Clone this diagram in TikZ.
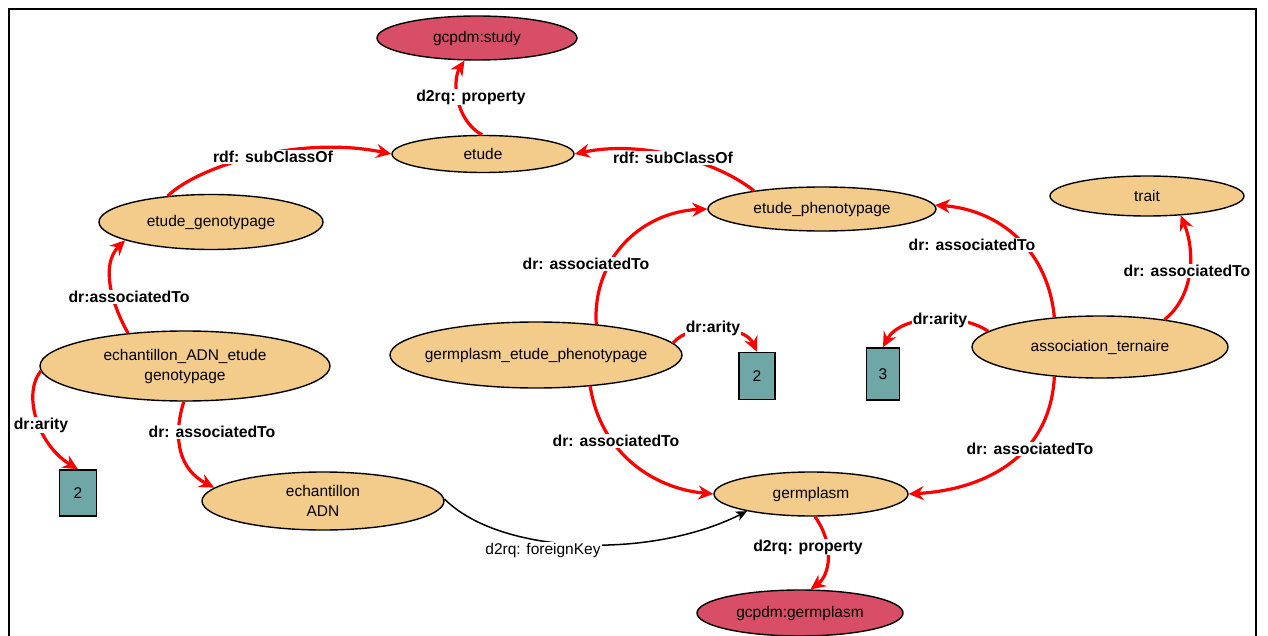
\documentclass[tikz,border=0pt]{standalone}
\usepackage{fontspec}
\setmainfont{Liberation Sans}
\usetikzlibrary{shapes.geometric,arrows.meta}

\definecolor{classfill}{RGB}{243,204,139}
\definecolor{gcpdmfill}{RGB}{217,78,103}
\definecolor{arityfill}{RGB}{111,166,166}
\definecolor{edgered}{RGB}{255,0,0}

\tikzset{
  cls/.style={ellipse, draw=black, line width=1.4pt, fill=classfill,
              inner xsep=-30pt, inner ysep=-8pt,
              font=\fontsize{15.5}{20}\selectfont, align=center},
  gcpdm/.style={cls, fill=gcpdmfill},
  arity/.style={rectangle, draw=black, line width=1.4pt, fill=arityfill, inner sep=0pt,
                font=\fontsize{15.5}{18}\selectfont},
  rel/.style={draw=edgered, line width=3.2pt, -{Stealth[length=15pt,width=14pt,inset=5pt]}},
  fk/.style={draw=black, line width=1.5pt, -{Stealth[length=11pt,width=10pt,inset=3pt]}},
  lbl/.style={fill=white, inner sep=1pt, font=\bfseries\fontsize{15.8}{18}\selectfont},
  fklbl/.style={fill=white, inner sep=1pt, font=\fontsize{15.5}{18}\selectfont},
}

\begin{document}
\begin{tikzpicture}[x=1pt, y=-1pt]
\useasboundingbox (0,0) rectangle (1268,636);

% frame
\draw[line width=2pt] (9,640) -- (9,9) -- (1256,9) -- (1256,640);

% classes and arity boxes
\node[gcpdm, minimum width=200pt, minimum height=44pt] (study) at (477,38) {gcpdm:study};
\node[cls, minimum width=182pt, minimum height=37pt] (etude) at (483,154) {etude};
\node[cls, minimum width=224pt, minimum height=55pt] (genot) at (211,222) {etude\_genotypage};
\node[cls, minimum width=228pt, minimum height=44pt] (phenot) at (822,209) {etude\_phenotypage};
\node[cls, minimum width=194pt, minimum height=40pt] (trait) at (1147,196) {trait};
\node[cls, minimum width=290pt, minimum height=70pt] (ech) at (185,366) {echantillon\_ADN\_etude\\genotypage};
\node[cls, minimum width=292pt, minimum height=66pt] (gep) at (536,355) {germplasm\_etude\_phenotypage};
\node[cls, minimum width=256pt, minimum height=62pt] (assoc) at (1100,347) {association\_ternaire};
\node[arity, minimum width=36pt, minimum height=47pt] (ar2m) at (757,376) {2};
\node[arity, minimum width=33pt, minimum height=52pt] (ar3) at (883,374) {3};
\node[arity, minimum width=37pt, minimum height=46pt] (ar2l) at (78,493) {2};
\node[cls, minimum width=242pt, minimum height=58pt] (adn) at (323,501) {echantillon\\ADN};
\node[cls, minimum width=194pt, minimum height=44pt] (germ) at (811,494) {germplasm};
\node[gcpdm, minimum width=206pt, minimum height=46pt] (ggerm) at (800,613) {gcpdm:germplasm};

% relations
\draw[rel] (etude.93) .. controls (455,120) and (452,80) .. (study.241);
\draw[rel] (genot.149) .. controls (200,165) and (300,135) .. (etude.west);
\draw[rel] (phenot.165) .. controls (715,160) and (640,140) .. (etude.east);
\draw[rel] (ech.150) .. controls (112,305) and (100,265) .. (genot.192);
\draw[rel] (ech.182) .. controls (22,395) and (38,445) .. (ar2l.north);
\draw[rel] (ech.268) .. controls (172,440) and (180,470) .. (adn.173);
\draw[rel] (gep.27) .. controls (592,260) and (640,212) .. (phenot.west);
\draw[rel] (gep.5) .. controls (690,322) and (745,325) .. (ar2m.north);
\draw[rel] (gep.330) .. controls (600,450) and (650,488) .. (germ.west);
\draw[rel] (assoc.147) .. controls (1048,250) and (1000,210) .. (phenot.2);
\draw[rel] (assoc.23) .. controls (1195,295) and (1195,250) .. (trait.330);
\draw[rel] (assoc.172) .. controls (960,312) and (900,315) .. (ar3.north);
\draw[rel] (assoc.213) .. controls (1050,460) and (980,490) .. (germ.east);
\draw[rel] (germ.280) .. controls (835,545) and (830,575) .. (ggerm.66);
\draw[fk] (adn.1) .. controls (500,555) and (650,560) .. (germ.195);

% relation labels
\node[lbl] (l1) at (471,97) {d2rq: property};
\node[lbl] (l2) at (273,157) {rdf: subClassOf};
\node[lbl] (l3) at (673,158) {rdf: subClassOf};
\node[lbl] (l4) at (129,297) {dr:associatedTo};
\node[lbl] (l5) at (41,425) {dr:arity};
\node[lbl] (l6) at (212,432) {dr: associatedTo};
\node[lbl] (l7) at (586,264) {dr: associatedTo};
\node[lbl] (l8) at (713,328) {dr:arity};
\node[lbl] (l9) at (616,441) {dr: associatedTo};
\node[lbl] (l10) at (972,245) {dr: associatedTo};
\node[lbl] (l11) at (1187,271) {dr: associatedTo};
\node[lbl] (l12) at (940,320) {dr:arity};
\node[lbl] (l13) at (1030,449) {dr: associatedTo};
\node[lbl] (l14) at (808,547) {d2rq: property};
\node[fklbl] (l15) at (543,550) {d2rq: foreignKey};
\end{tikzpicture}
\end{document}
